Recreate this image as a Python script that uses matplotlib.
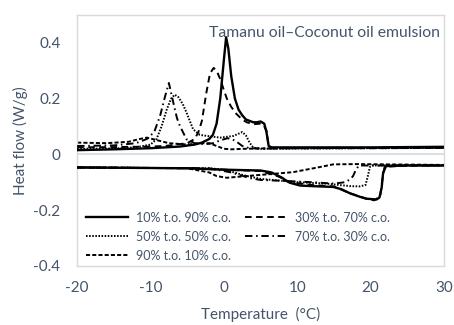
import matplotlib
matplotlib.use("Agg")
import matplotlib.pyplot as plt
from matplotlib.lines import Line2D

plt.rcParams['font.family'] = ['Lato', 'DejaVu Sans']

TXT = '#44546A'

# ---------------- data (temperature °C, heat flow W/g) ----------------
# cooling (exothermic, upper curves)
c10_t = [-20, -15, -10, -6, -4, -3, -2, -1.5, -1, -0.5, 0, 0.3, 0.6, 1, 1.5, 2, 2.5, 3, 3.5, 4, 4.5, 5, 5.5, 5.8, 6.1, 6.5, 8, 10, 15, 20, 25, 30]
c10_q = [0.015, 0.018, 0.022, 0.028, 0.035, 0.042, 0.055, 0.07, 0.11, 0.2, 0.34, 0.42, 0.38, 0.28, 0.2, 0.16, 0.14, 0.125, 0.12, 0.115, 0.115, 0.118, 0.11, 0.08, 0.03, 0.025, 0.025, 0.025, 0.025, 0.025, 0.026, 0.027]

c30_t = [-20, -15, -10, -8, -5, -4, -3.5, -3, -2.4, -1.9, -1.4, -1.0, -0.5, 0, 0.4, 1, 1.7, 2.5, 3.1, 4, 4.9, 5.4, 5.8, 6.1, 6.5, 10, 20, 30]
c30_q = [0.025, 0.026, 0.028, 0.03, 0.04, 0.055, 0.078, 0.12, 0.22, 0.29, 0.31, 0.3, 0.27, 0.23, 0.2, 0.17, 0.145, 0.125, 0.115, 0.108, 0.11, 0.105, 0.085, 0.03, 0.022, 0.022, 0.022, 0.023]

c50_t = [-20, -15, -12, -10, -9.2, -8.5, -7.8, -7.2, -6.7, -6.2, -5.6, -5.1, -4.2, -3.3, -2.3, -0.5, 1.3, 2.0, 2.5, 3.0, 3.5, 4.0, 5, 10, 20, 30]
c50_q = [0.02, 0.021, 0.025, 0.035, 0.054, 0.1, 0.16, 0.2, 0.214, 0.205, 0.18, 0.15, 0.09, 0.07, 0.066, 0.06, 0.066, 0.074, 0.08, 0.068, 0.042, 0.024, 0.02, 0.021, 0.022, 0.023]

c70_t = [-20, -15, -12, -10.5, -9.5, -8.7, -8.0, -7.5, -6.9, -6.4, -6.0, -5.1, -4, -2.5, -1.5, -0.5, 0.5, 1.5, 2.5, 3.5, 5, 10, 20, 30]
c70_q = [0.03, 0.032, 0.04, 0.055, 0.08, 0.138, 0.21, 0.256, 0.186, 0.13, 0.102, 0.054, 0.04, 0.036, 0.04, 0.05, 0.058, 0.05, 0.03, 0.022, 0.021, 0.022, 0.023, 0.024]

c90_t = [-20, -16, -13, -11.5, -10.5, -9, -7.5, -5, -3, -2, -1, 0, 1, 3, 5, 10, 20, 30]
c90_q = [0.042, 0.04, 0.045, 0.055, 0.06, 0.05, 0.04, 0.035, 0.04, 0.04, 0.03, 0.02, 0.018, 0.02, 0.021, 0.022, 0.023, 0.024]

# heating (endothermic, lower curves)
h10_t = [-20, -5, 0, 5, 6.5, 8, 8.5, 9, 10.4, 12, 14.9, 16, 17.2, 18.5, 19.4, 20.8, 21.2, 21.5, 21.7, 22.1, 25, 30]
h10_q = [-0.047, -0.05, -0.055, -0.058, -0.065, -0.085, -0.095, -0.102, -0.112, -0.114, -0.117, -0.125, -0.14, -0.152, -0.159, -0.162, -0.155, -0.12, -0.066, -0.042, -0.04, -0.04]

h30_t = [-20, -5, 0, 5, 7.5, 9, 12, 15, 17, 19.5, 20.5, 21.3, 21.6, 21.9, 25, 30]
h30_q = [-0.047, -0.05, -0.055, -0.06, -0.08, -0.1, -0.11, -0.115, -0.138, -0.16, -0.165, -0.15, -0.09, -0.045, -0.04, -0.04]

h50_t = [-20, -2, 0, 1, 3, 5, 8, 10, 14, 15, 17.2, 18.5, 19.3, 19.6, 19.9, 20.2, 25, 30]
h50_q = [-0.047, -0.05, -0.055, -0.062, -0.077, -0.088, -0.095, -0.1, -0.105, -0.108, -0.114, -0.115, -0.11, -0.08, -0.045, -0.04, -0.04, -0.04]

h70_t = [-20, -2, 1, 3.5, 5, 8, 12, 15, 16.5, 17.2, 17.6, 18.0, 18.4, 20, 25, 30]
h70_q = [-0.047, -0.05, -0.065, -0.085, -0.092, -0.095, -0.1, -0.105, -0.1, -0.09, -0.078, -0.055, -0.04, -0.04, -0.04, -0.04]

h90_t = [-20, -5, -2, -1, 0.4, 3, 5.8, 9.4, 11, 12.6, 14.9, 18, 22, 30]
h90_q = [-0.047, -0.05, -0.065, -0.078, -0.084, -0.078, -0.072, -0.064, -0.056, -0.048, -0.036, -0.035, -0.036, -0.038]

labels = ['10% t.o. 90% c.o.', '30% t.o. 70% c.o.', '50% t.o. 50% c.o.',
          '70% t.o. 30% c.o.', '90% t.o. 10% c.o.']
x_ticks = [-20, -10, 0, 10, 20, 30]
y_ticks = [-0.4, -0.2, 0, 0.2, 0.4]
y_tick_labels = ['-0.4', '-0.2', '0', '0.2', '0.4']
x_tick_labels = ['-20', '-10', '0', '10', '20', '30']

# ---------------- styles ----------------
LW = 1.4
styles = [
    dict(linestyle='-', lw=1.7),
    dict(linestyle=(0, (3.4, 2.3)), lw=LW),
    dict(linestyle=(0, (0.8, 0.8)), lw=LW),
    dict(linestyle=(0, (3.8, 1.9, 0.8, 1.9)), lw=LW),
    dict(linestyle=(0, (2.1, 1.1)), lw=LW),
]

fig = plt.figure(figsize=(4.54, 3.25), dpi=100)
ax = fig.add_axes([0.170, 0.182, 0.808, 0.772])

ax.axhline(0, color='#d6dce5', lw=1.3, zorder=0)

cool = [(c10_t, c10_q), (c30_t, c30_q), (c50_t, c50_q), (c70_t, c70_q), (c90_t, c90_q)]
heat = [(h10_t, h10_q), (h30_t, h30_q), (h50_t, h50_q), (h70_t, h70_q), (h90_t, h90_q)]
order_z = [5, 4, 3, 3, 2]
for i in range(5):
    ax.plot(cool[i][0], cool[i][1], color='black', zorder=order_z[i], **styles[i])
    ax.plot(heat[i][0], heat[i][1], color='black', zorder=order_z[i], **styles[i])

ax.set_xlim(-20, 30)
ax.set_ylim(-0.4, 0.5)
ax.set_xticks(x_ticks)
ax.set_xticklabels(x_tick_labels)
ax.set_yticks(y_ticks)
ax.set_yticklabels(y_tick_labels)
ax.tick_params(length=0, labelsize=11, labelcolor=TXT)
ax.tick_params(axis='y', pad=12)
ax.tick_params(axis='x', pad=11)
for s in ax.spines.values():
    s.set_color('#d9d9d9')
    s.set_linewidth(1.0)

ax.set_xlabel('Temperature  (°C)', fontsize=11, color=TXT)
ax.xaxis.set_label_coords(0.5, -0.195)
ax.xaxis.label.set_va('center')
ax.set_ylabel('Heat flow (W/g)', fontsize=11, color=TXT)
ax.yaxis.set_label_coords(-0.155, 0.5)
ax.yaxis.label.set_va('center')

ax.text(0.99, 0.93, 'Tamanu oil\u2013Coconut oil emulsion', transform=ax.transAxes,
        ha='right', va='center', fontsize=11.3, color=TXT)

handles = [Line2D([], [], color='black', **styles[i]) for i in range(5)]
idx = [0, 2, 4, 1, 3]
leg = ax.legend([handles[i] for i in idx], [labels[i] for i in idx], ncol=2,
                loc='lower left', bbox_to_anchor=(0.0, -0.018), frameon=False,
                fontsize=9, handlelength=3.4, handletextpad=0.6, columnspacing=1.1,
                labelspacing=0.55, borderaxespad=0.3)
for t in leg.get_texts():
    t.set_color(TXT)

fig.savefig('out.png', dpi=100)
